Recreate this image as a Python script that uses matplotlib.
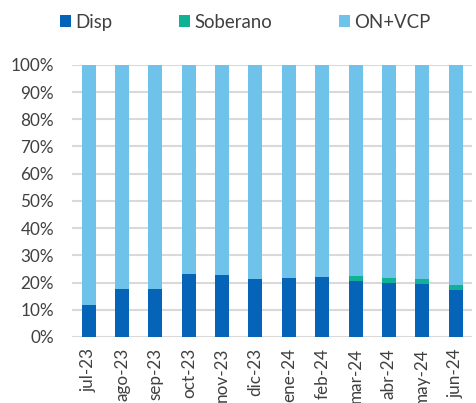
import matplotlib
matplotlib.use("Agg")
import matplotlib.pyplot as plt
import numpy as np

categories = ["jul-23", "ago-23", "sep-23", "oct-23", "nov-23", "dic-23",
              "ene-24", "feb-24", "mar-24", "abr-24", "may-24", "jun-24"]
disp = [11.9, 17.6, 17.6, 23.2, 22.9, 21.2, 21.6, 22.0, 20.5, 19.9, 19.4, 17.2]
soberano = [0.0, 0.0, 0.0, 0.0, 0.0, 0.0, 0.0, 0.0, 1.8, 1.7, 1.8, 2.0]
on_vcp = [100 - d - s for d, s in zip(disp, soberano)]

c_disp = "#0563b8"
c_sob = "#0fb294"
c_on = "#6fc3ea"
txt = "#404040"

plt.rcParams['font.family'] = ['Lato', 'DejaVu Sans']

fig = plt.figure(figsize=(4.77, 4.03), dpi=100)
ax = fig.add_axes([0.151, 0.164, 0.839, 0.675])

x = np.arange(len(categories))
w = 0.42
ax.bar(x, disp, w, color=c_disp, label="Disp", zorder=3)
ax.bar(x, soberano, w, bottom=disp, color=c_sob, label="Soberano", zorder=3)
bot2 = [d + s for d, s in zip(disp, soberano)]
ax.bar(x, on_vcp, w, bottom=bot2, color=c_on, label="ON+VCP", zorder=3)

ax.set_xlim(-0.5, len(categories) - 0.5)
ax.set_ylim(0, 100)
ax.set_yticks(np.arange(0, 101, 10))
ax.set_yticklabels([f"{v}%" for v in range(0, 101, 10)], color=txt, fontsize=12.3)
ax.set_xticks(x)
ax.set_xticklabels(categories, rotation=90, color=txt, fontsize=12.3)
ax.tick_params(axis='both', length=0)
ax.tick_params(axis='y', pad=13)
ax.tick_params(axis='x', pad=8)
ax.yaxis.grid(True, color="#d9d9d9", linewidth=1.5, zorder=0)
for s in ax.spines.values():
    s.set_visible(False)

handles, labels = ax.get_legend_handles_labels()
fig.legend(handles, labels, ncol=3, loc="center left", bbox_to_anchor=(0.125, 0.945),
           frameon=False, fontsize=13.4, handlelength=0.6, handleheight=0.6,
           handletextpad=0.22, columnspacing=3.6, labelcolor=txt, borderaxespad=0,
           borderpad=0)

fig.savefig("out.png", dpi=100)
